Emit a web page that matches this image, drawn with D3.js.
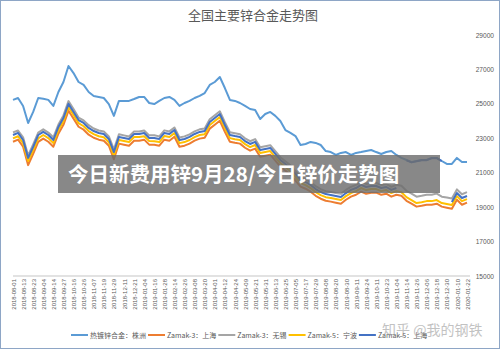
<!DOCTYPE html>
<html><head><meta charset="utf-8">
<script src="https://cdn.jsdelivr.net/npm/d3@7"></script>
<style>body{margin:0;background:#fff}svg{display:block}</style>
</head><body>
<svg id="c" width="500" height="349"></svg>
<script>
const dateLabels = ["2018-08-01","2018-08-13","2018-08-23","2018-09-04","2018-09-14","2018-09-27","2018-10-16","2018-10-26","2018-11-07","2018-11-19","2018-11-29","2018-12-11","2018-12-21","2019-01-04","2019-01-16","2019-01-28","2019-02-14","2019-02-26","2019-03-08","2019-03-20","2019-04-01","2019-04-12","2019-04-24","2019-05-09","2019-05-21","2019-05-31","2019-06-13","2019-06-25","2019-07-05","2019-07-17","2019-07-29","2019-08-08","2019-08-20","2019-08-30","2019-09-11","2019-09-24","2019-10-11","2019-10-23","2019-11-04","2019-11-14","2019-11-26","2019-12-06","2019-12-18","2019-12-30","2020-01-10","2020-01-22"];
const seriesNames = ["热镀锌合金：株洲","Zamak-3：上海","Zamak-3：无锡","Zamak-5：宁波","Zamak-5：上海"];
const seriesColors = ["#5B9BD5","#ED7D31","#A5A5A5","#FFC000","#4472C4"];
const yTicks = [15000,17000,19000,21000,23000,25000,27000,29000];

const zhuzhou = [25230,25340,24880,23890,24530,25340,25300,25230,24880,25690,
 26270,27200,26790,26270,26100,25690,25460,25400,25340,24990,
 24300,25170,25170,25170,25280,25400,25400,25050,24990,25170,
 25340,25400,25230,24880,25050,25170,25340,25460,25630,26100,
 26270,26560,25920,25230,25170,25050,24880,24700,24640,24120,
 24410,24530,24300,24000,23480,23310,23130,22610,22670,22790,
 22730,22610,22260,22200,22030,22150,22200,22030,22150,22200,
 22260,22320,22200,22090,22200,22260,22030,21860,21740,21620,
 21680,21740,21740,21860,21860,21680,21510,21510,21860,21620,
 21620];
const zamak3Shanghai = [22800,22920,22510,21440,22100,22790,22980,22800,22510,23270,
 23780,24600,24140,23670,23500,23210,23030,22920,22860,22570,
 21780,22690,22630,22570,22860,22860,22920,22630,22630,22570,
 22920,22860,23090,22510,22570,22690,22860,22980,23030,23560,
 23790,24020,23380,22800,22740,22690,22450,22280,22400,21930,
 21990,22050,21700,21350,21120,20880,20540,20190,20070,19900,
 19660,19490,19370,19320,19260,19200,19430,19610,19720,19900,
 19780,19840,19840,19720,19780,19610,19720,19660,19370,19200,
 19030,19080,19140,19140,19200,19030,18970,18910,19430,19140,
 19260];
const zamak3Wuxi = [23340,23450,23060,22000,22650,23330,23520,23330,23060,23800,
 24330,25160,24700,24200,24040,23760,23570,23450,23400,23110,
 22360,23230,23170,23100,23400,23390,23450,23170,23180,23110,
 23460,23400,23630,23050,23110,23230,23400,23520,23570,24110,
 24340,24570,23930,23350,23290,23230,23000,22830,22950,22480,
 22540,22600,22250,21900,21670,21430,21090,20740,20620,20450,
 20220,20050,19930,19880,19820,19770,20000,20180,20290,20470,
 20350,20400,20400,20290,20350,20180,20300,20240,19950,19790,
 19610,19660,19720,19720,19790,19610,19560,19500,20030,19750,
 19870];
const zamak5Ningbo = [22990,23120,22710,21680,22320,23000,23190,23010,22720,23480,
 23990,24820,24350,23880,23700,23420,23240,23120,23060,22770,
 22010,22900,22840,22780,23070,23070,23120,22840,22830,22780,
 23130,23070,23300,22720,22780,22900,23070,23190,23240,23770,
 24000,24230,23590,23010,22950,22900,22660,22490,22610,22140,
 22200,22260,21910,21560,21330,21090,20750,20400,20280,20110,
 19870,19700,19580,19530,19470,19410,19640,19820,19930,20110,
 19990,20050,20050,19930,19990,19820,19930,19870,19580,19410,
 19240,19290,19350,19350,19410,19240,19180,19120,19640,19350,
 19470];
const zamak5Shanghai = [23190,23310,22900,21860,22500,23190,23370,23190,22900,23660,
 24180,25000,24530,24060,23890,23600,23420,23310,23250,22960,
 22200,23080,23020,22960,23250,23250,23310,23020,23020,22960,
 23310,23250,23480,22900,22960,23080,23250,23370,23420,23950,
 24180,24410,23770,23190,23130,23080,22840,22670,22790,22320,
 22380,22440,22090,21740,21510,21270,20930,20580,20460,20290,
 20050,19880,19760,19710,19650,19590,19820,20000,20110,20290,
 20170,20230,20230,20110,20170,20000,20110,null,21720,21600,
 21660,21720,21730,21840,21850,21670,null,19300,19820,19530,
 19650];

const allSeries = [zhuzhou, zamak3Shanghai, zamak3Wuxi, zamak5Ningbo, zamak5Shanghai];

const svg = d3.select("#c");
svg.append("rect").attr("x",0.5).attr("y",0.5).attr("width",499).attr("height",348)
  .attr("fill","#fff").attr("stroke","#8EA6C6").attr("stroke-width",1);

const x = d3.scaleLinear().domain([0, zhuzhou.length-1]).range([13,467]);
const y = d3.scaleLinear().domain([15000,29000]).range([276,35]);

// title
svg.append("text").attr("x",253).attr("y",20).attr("text-anchor","middle")
  .attr("font-family","'Noto Sans CJK SC',sans-serif").attr("font-size",13)
  .attr("fill","#595959").text("全国主要锌合金走势图");

// y axis labels (right)
const yAxis = d3.axisRight(y).tickValues(yTicks).tickSize(0).tickFormat(d3.format("d"));
const gy = svg.append("g").attr("transform","translate(488,0)").call(yAxis);
gy.select(".domain").remove();
gy.selectAll("text").attr("x",6).attr("text-anchor","end")
  .attr("font-family","'Liberation Sans',Arial,sans-serif").attr("font-size",6.6).attr("fill","#595959");

// x axis
const tickIdx = dateLabels.map((d,i)=>i*2);
const xAxis = d3.axisBottom(x).tickValues(tickIdx).tickSize(0).tickFormat(d=>dateLabels[d/2]);
const gx = svg.append("g").attr("transform",`translate(0,${y(15000)})`).call(xAxis);
gx.select(".domain").attr("stroke","#d9d9d9").attr("stroke-width",1.5).attr("d","M13,0H470");
gx.selectAll("text").attr("transform","rotate(-90)").attr("text-anchor","end")
  .attr("x",-3).attr("y",0).attr("dy","0.35em")
  .attr("font-family","'Liberation Sans',Arial,sans-serif").attr("font-size",6).attr("fill","#595959");

// lines
const line = d3.line().defined(d=>d!=null).x((d,i)=>x(i)).y(d=>y(d));
allSeries.forEach((s,k)=>{
  svg.append("path").datum(s).attr("d",line).attr("fill","none")
    .attr("stroke",seriesColors[k]).attr("stroke-width",2).attr("stroke-linejoin","round");
});

// overlay banner
svg.append("rect").attr("x",58).attr("y",155).attr("width",382).attr("height",38)
  .attr("fill","#6e6e6e").attr("opacity",0.82);
svg.append("text").attr("x",68).attr("y",182)
  .attr("font-family","'Noto Sans CJK SC',sans-serif").attr("font-weight","bold")
  .attr("font-size",20.5).attr("fill","#fff").text("今日新费用锌9月28/今日锌价走势图");

// legend
const lg = svg.append("g");
let lx = 71;
seriesNames.forEach((n,k)=>{
  lg.append("line").attr("x1",lx).attr("x2",lx+17).attr("y1",335).attr("y2",335)
    .attr("stroke",seriesColors[k]).attr("stroke-width",2);
  const t = lg.append("text").attr("x",lx+19).attr("y",337.5)
    .attr("font-family","'Noto Sans CJK SC',sans-serif").attr("font-size",7).attr("fill","#595959").text(n);
  lx += 19 + t.node().getComputedTextLength() + 2;
});

// watermark
svg.append("text").attr("x",382).attr("y",335)
  .attr("font-family","'Noto Sans CJK SC',sans-serif").attr("font-size",14)
  .attr("fill","#9a9a9a").attr("opacity",0.6).text("知乎 @我的钢铁");
</script>
</body></html>
